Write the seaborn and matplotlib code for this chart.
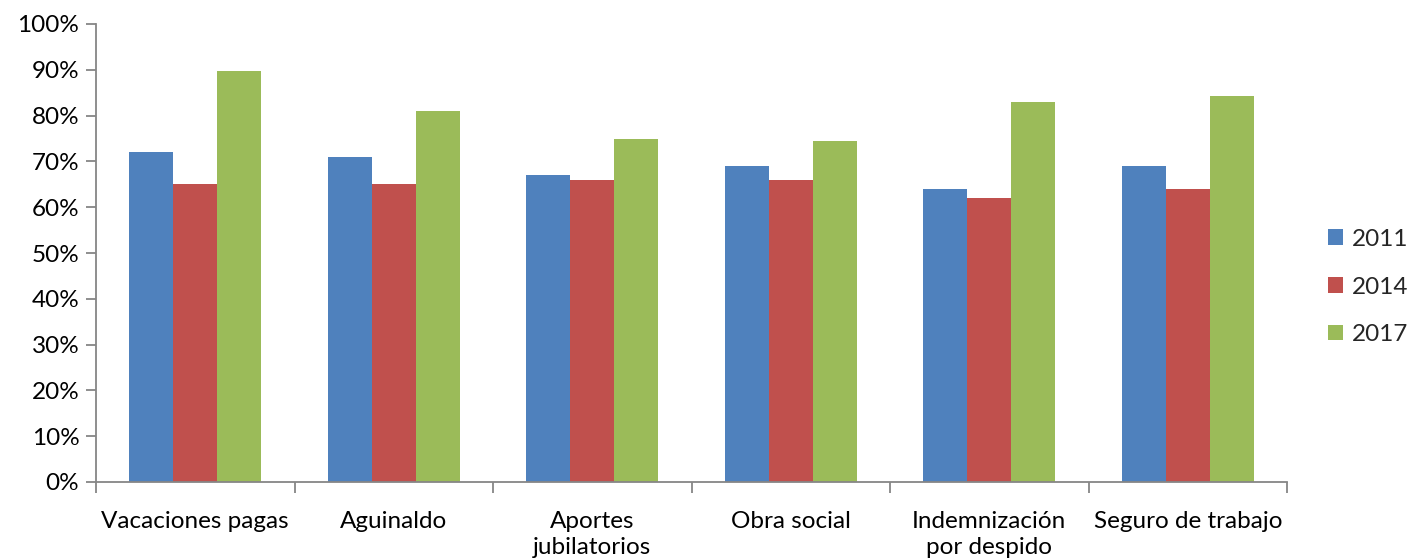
import matplotlib
matplotlib.use("Agg")
import matplotlib.pyplot as plt
import seaborn as sns
import pandas as pd
from matplotlib.ticker import FuncFormatter, FixedLocator

categories = ["Vacaciones pagas", "Aguinaldo", "Aportes\njubilatorios", "Obra social",
              "Indemnización\npor despido", "Seguro de trabajo"]
years = ["2011", "2014", "2017"]
v2011 = [72, 71, 67, 69, 64, 69]
v2014 = [65, 65, 66, 66, 62, 64]
v2017 = [89.8, 81, 75, 74.4, 83, 84.2]
colors = ["#4F81BD", "#C0504D", "#9BBB59"]

rows = []
for y, vals in zip(years, [v2011, v2014, v2017]):
    for c, v in zip(categories, vals):
        rows.append({"cat": c, "year": y, "val": v / 100})
df = pd.DataFrame(rows)

sns.set_style("white")
plt.rcParams["font.family"] = ["Lato", "DejaVu Sans"]
FS = 17.5

fig = plt.figure(figsize=(14.07, 5.59), dpi=100)
ax = fig.add_axes([96 / 1407, 77 / 559, (1287 - 96) / 1407, (482 - 24) / 559])

sns.barplot(data=df, x="cat", y="val", hue="year", palette=colors, saturation=1,
            width=0.665, ax=ax, linewidth=0, order=categories, hue_order=years)

ax.set_xlim(-0.5, 5.5)
ax.set_ylim(0, 1.0)
ax.set_yticks([i / 10 for i in range(11)])
ax.yaxis.set_major_formatter(FuncFormatter(lambda v, p: f"{v*100:.0f}%"))
ax.set_xlabel("")
ax.set_ylabel("")

for s in ["top", "right"]:
    ax.spines[s].set_visible(False)
for s in ["left", "bottom"]:
    ax.spines[s].set_color("#868686")
    ax.spines[s].set_linewidth(1.3)

ax.tick_params(axis="y", which="major", length=7, width=1.3, color="#868686",
               direction="out", left=True, labelsize=FS, pad=5, labelcolor="black")
ax.tick_params(axis="x", which="major", length=0, labelsize=FS, pad=21, labelcolor="black")
ax.xaxis.set_minor_locator(FixedLocator([i - 0.5 for i in range(7)]))
ax.tick_params(axis="x", which="minor", length=8, width=1.3, color="#868686",
               direction="out", bottom=True)
for lbl in ax.get_xticklabels():
    lbl.set_linespacing(1.28)
    lbl.set_verticalalignment("top")

ax.legend(loc="center left", bbox_to_anchor=(1328 / 1407, (559 - 287) / 559),
          bbox_transform=fig.transFigure, frameon=False, fontsize=FS,
          handlelength=0.6, handleheight=0.6, handletextpad=0.4, labelspacing=1.1,
          borderaxespad=0, borderpad=0)

fig.savefig("out.png", dpi=100)
